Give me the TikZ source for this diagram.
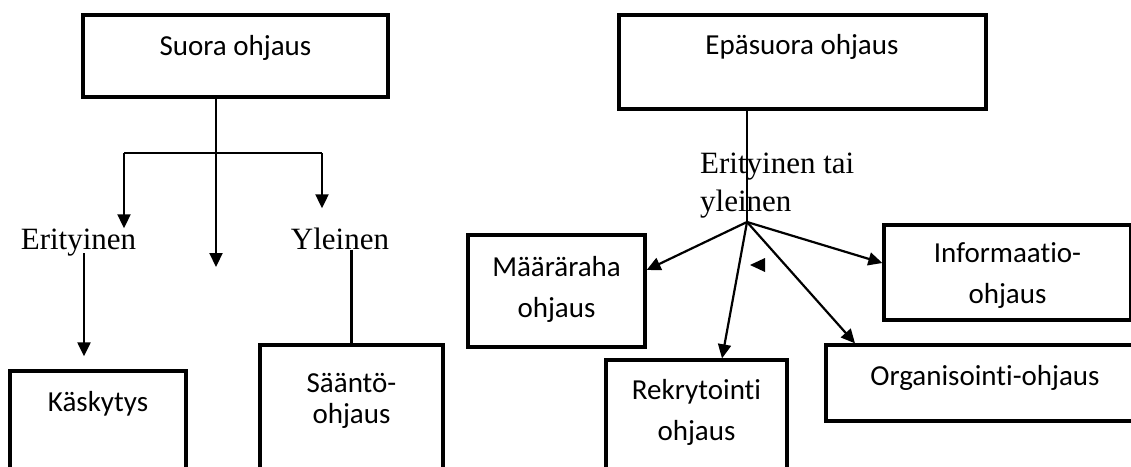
\documentclass[tikz,border=0pt]{standalone}
\usepackage{fontspec}
\setmainfont{Carlito}[Ligatures=NoCommon]
\newfontfamily\timesfont{Liberation Serif}
\usetikzlibrary{arrows.meta,
  calc,
  positioning
}

\tikzset{
  box/.style={draw, line width=3.3pt, rectangle, inner sep=0pt},
  boxtext/.style={font=\fontsize{29}{41}\selectfont, align=center, anchor=base, inner sep=0pt},
  lab/.style={font=\timesfont\fontsize{31}{38}\selectfont, inner sep=0pt, anchor=base},
  arr/.style={->, line width=2.2pt},
  >={Triangle[length=14pt,width=13pt]}
}

\begin{document}
\begin{tikzpicture}[x=1pt, y=-1pt]
  \useasboundingbox (0,0) rectangle (1131,466);
  \clip (0,0) rectangle (1131,466);

  % Suora ohjaus
  \node[box, minimum width=305, minimum height=82] (suora) at (235.5,56) {};
  \node[boxtext] (suoratxt) at (235.5,55) {Suora ohjaus};
  \coordinate (bar) at (216,153);
  \coordinate (barL) at (124,153);
  \coordinate (barR) at (322,153);
  \coordinate (midend) at (216,267);
  \draw[arr] (suora.south -| bar) -- (midend);
  \draw[line width=2.2pt] (barL) -- (barR);

  \node[lab] (eri) at (78.5,249) {Erityinen};
  \node[lab] (yle) at (340,249) {Yleinen};
  \draw[arr] (barL) -- (eri.north -| barL);
  \draw[arr, shorten >=19pt] (barR) -- (yle.north -| barR);

  % Kaskytys ja saanto
  \node[box, minimum width=176, minimum height=129] (kasky) at (98,435.5) {};
  \node[boxtext] (kaskytxt) at (98,411) {Käskytys};
  \node[box, minimum width=183, minimum height=155] (saanto) at (351.5,422.5) {};
  \node[boxtext, font=\fontsize{29}{31}\selectfont] (saantotxt) at (351.5,423) {Sääntö-\\ohjaus};
  \coordinate (eridrop) at (84,253);
  \draw[arr, shorten >=13pt] (eridrop) -- (kasky.north -| eridrop);
  \draw[line width=2.2pt] (saanto.north |- yle.south) -- (saanto.north);

  % Epasuora ohjaus
  \node[box, minimum width=367, minimum height=94] (epasuora) at (802.5,62) {};
  \node[boxtext] (epasuoratxt) at (802,54) {Epäsuora ohjaus};
  \node[lab, anchor=base west, align=left] (etai) at (700,211) {Erityinen tai\\yleinen};
  \coordinate (hub) at (747,222);
  \draw[line width=1.3pt] (epasuora.south -| hub) -- (hub);

  % targets
  \node[box, minimum width=177, minimum height=112] (maara) at (556.5,291) {};
  \node[boxtext] (maaratxt) at (556.5,317) {Määräraha\\ohjaus};
  \node[box, minimum width=181, minimum height=140] (rekry) at (696.5,430) {};
  \node[boxtext] (rekrytxt) at (696.5,440) {Rekrytointi\\ohjaus};
  \node[box, minimum width=247, minimum height=95] (info) at (1007.5,272.5) {};
  \node[boxtext] (infotxt) at (1007.5,303) {Informaatio-\\ohjaus};
  \node[box, minimum width=318, minimum height=76] (org) at (985,383) {};
  \node[boxtext] (orgtxt) at (985,385) {Organisointi-ohjaus};

  \draw[arr] (hub) -- ([yshift=21pt]maara.east);
  \draw[arr] (hub) -- ([xshift=25.5pt]rekry.north);
  \draw[arr] (hub) -- ([xshift=-130pt]org.north);
  \draw[arr] (hub) -- ([yshift=9.5pt]info.west);
  \fill (750,265) -- (765,258) -- (765,272) -- cycle;
\end{tikzpicture}
\end{document}
